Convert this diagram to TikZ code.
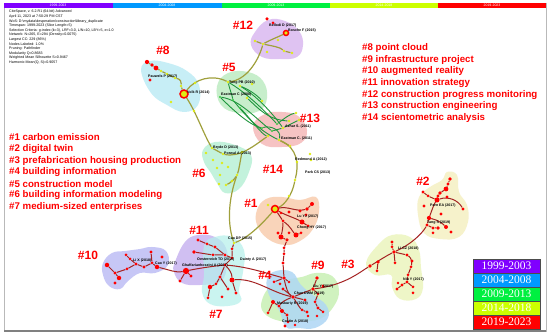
\documentclass[tikz,border=0pt]{standalone}
\usepackage{fontspec}
\setmainfont{Liberation Sans}
\newfontfamily\legserif{Liberation Serif}
\definecolor{nred}{RGB}{255,0,0}
\definecolor{nyel}{RGB}{222,236,20}
\definecolor{ngrn}{RGB}{50,200,60}
\definecolor{olivec}{RGB}{160,160,60}
\definecolor{greenl}{RGB}{30,150,60}
\definecolor{darkred}{RGB}{165,35,35}
\definecolor{labred}{RGB}{255,0,0}
\definecolor{b8}{RGB}{190,236,245}
\definecolor{b12}{RGB}{218,185,240}
\definecolor{b5}{RGB}{190,236,195}
\definecolor{b13}{RGB}{245,185,185}
\definecolor{b6}{RGB}{185,240,215}
\definecolor{b1}{RGB}{248,205,175}
\definecolor{b2}{RGB}{245,240,195}
\definecolor{b3}{RGB}{236,245,190}
\definecolor{b4}{RGB}{175,215,245}
\definecolor{b9}{RGB}{200,240,180}
\definecolor{b11}{RGB}{200,180,240}
\definecolor{b7}{RGB}{180,240,235}
\definecolor{b10}{RGB}{190,190,245}
\definecolor{tpurple}{RGB}{128,0,255}
\definecolor{tblue}{RGB}{0,153,255}
\definecolor{tgreen}{RGB}{0,240,64}
\definecolor{tyellow}{RGB}{204,255,0}
\definecolor{tred}{RGB}{255,0,0}
\pgfdeclarelayer{blobs}
\pgfdeclarelayer{edges}
\pgfsetlayers{blobs,edges,main}
\tikzset{
 rd/.style={circle,fill=nred,inner sep=0pt,minimum size=1.25*#1pt},
 rd/.default=2.6,
 yd/.style={circle,fill=nyel,inner sep=0pt,minimum size=2.8pt},
 gd/.style={circle,fill=ngrn,inner sep=0pt,minimum size=2.3pt},
 ringn/.style={circle,draw=nred,fill=nyel,line width=1.5pt,inner sep=0pt,minimum size=#1pt},
 olv/.style={draw=olivec,line width=1.2pt},
 grl/.style={draw=greenl,line width=0.9pt},
 drd/.style={draw=darkred,line width=1pt},
 lab/.style={font=\fontsize{3.6}{4}\selectfont\bfseries,text=black,anchor=west,inner sep=0pt},
 clab/.style={font=\fontsize{12}{12}\selectfont\bfseries,text=labred,inner sep=0pt},
 leg/.style={font=\fontsize{9.7}{10}\selectfont\bfseries,text=labred,anchor=west,inner sep=0pt},
 blob/.style={fill=#1,fill opacity=0.85,draw=none},
 bartxt/.style={font=\fontsize{3.5}{4}\selectfont,text=white,inner sep=0pt},
 yrow/.style={draw=black!70,line width=0.4pt,fill=#1},
 yrtxt/.style={font=\legserif\fontsize{11.5}{12}\selectfont,text=white,inner sep=0pt}
}
\begin{document}
\begin{tikzpicture}[x=1pt,y=-1pt]
\useasboundingbox (0,0) rectangle (550,336);
\begin{pgfonlayer}{blobs}
\fill[white] (0,0) rectangle (550,336);
% cluster areas
\path[blob=b8] plot[smooth cycle,tension=0.7] coordinates {(141,70) (150,61) (168,63) (187,71) (199,85) (198,105) (184,112) (167,105) (151,93)};
\path[blob=b12] plot[smooth cycle,tension=0.7] coordinates {(255,32) (268,20) (285,21) (299,31) (303,45) (297,57) (280,59) (262,57) (251,45)};
\path[blob=b5] plot[smooth cycle,tension=0.7] coordinates {(217,86) (228,73) (248,72) (263,81) (267,98) (259,111) (238,113) (221,105)};
\path[blob=b13] plot[smooth cycle,tension=0.7] coordinates {(253,126) (265,114) (282,112) (298,116) (307,130) (301,143) (282,147) (262,144)};
\path[blob=b6] plot[smooth cycle,tension=0.7] coordinates {(203,150) (215,142) (235,145) (251,155) (249,172) (239,189) (225,193) (217,183) (211,173) (204,162)};
\path[blob=b1] plot[smooth cycle,tension=0.7] coordinates {(257,210) (266,199) (282,197) (300,200) (316,197) (319,212) (313,229) (300,241) (285,245) (268,239) (257,225)};
\path[blob=b2] plot[smooth cycle,tension=0.7] coordinates {(419,197) (430,187) (442,180) (447,172) (457,175) (459,192) (467,205) (468,222) (459,237) (440,239) (424,233) (418,215)};
\path[blob=b3] plot[smooth cycle,tension=0.7] coordinates {(366,263) (378,245) (392,235) (410,237) (419,250) (421,268) (423,288) (416,299) (400,299) (392,287) (391,275) (375,275)};
\path[blob=b9] plot[smooth cycle,tension=0.7] coordinates {(262,300) (272,285) (290,279) (302,277) (316,273) (332,276) (339,290) (334,306) (320,319) (300,321) (280,321) (264,313)};
\path[blob=b4] plot[smooth cycle,tension=0.7] coordinates {(267,279) (276,271) (292,272) (301,285) (313,295) (326,305) (328,318) (315,328) (298,328) (286,327) (279,310) (269,295)};
\path[blob=b11] plot[smooth cycle,tension=0.7] coordinates {(175,262) (185,242) (198,235) (215,237) (226,248) (227,265) (221,281) (200,285) (182,283) (174,272)};
\path[blob=b7,fill opacity=0.7] plot[smooth cycle,tension=0.7] coordinates {(204,246) (215,237) (232,237) (244,250) (243,272) (239,290) (241,301) (228,306) (210,304) (202,292) (204,275)};
\path[blob=b10] plot[smooth cycle,tension=0.7] coordinates {(103,263) (112,253) (125,251) (140,249) (152,247) (166,251) (168,265) (155,273) (140,273) (128,281) (120,289) (109,286) (103,275)};
\end{pgfonlayer}
% frame and time bar
\draw[gray!55,line width=0.8pt] (4,3) rectangle (546,331);
\draw[gray,line width=1.2pt] (4,331) -- (546,331);
\fill[tpurple] (4,3) rectangle (113,8);
\fill[tblue] (113,3) rectangle (222,8);
\fill[tgreen] (222,3) rectangle (330,8);
\fill[tyellow] (330,3) rectangle (438,8);
\fill[tred] (438,3) rectangle (546,8);
\node[bartxt] (bt1) at (58,5.5) {1999-2003};
\node[bartxt] (bt2) at (167,5.5) {2004-2008};
\node[bartxt] (bt3) at (276,5.5) {2009-2013};
\node[bartxt] (bt4) at (384,5.5) {2014-2018};
\node[bartxt] (bt5) at (492,5.5) {2019-2023};
% info text
\node[anchor=north west,inner sep=0pt,align=left,font=\fontsize{3.6}{4.6}\selectfont] (info) at (9,10) {CiteSpace, v. 6.2.R1 (64-bit) Advanced\\April 11, 2023 at 7:50:29 PM CST\\WoS: D:\textbackslash mydata\textbackslash desperation\textbackslash construction\textbackslash library\_duplicate\\Timespan: 1999-2023 (Slice Length=5)\\Selection Criteria: g-index (k=3), LRF=3.0, L/N=10, LBY=5, e=1.0\\Network: N=265, E=294 (Density=0.0075)\\Largest CC: 229 (86\%)\\Nodes Labeled: 1.0\%\\Pruning: Pathfinder\\Modularity Q=0.8683\\Weighted Mean Silhouette S=0.9467\\Harmonic Mean(Q, S)=0.9057};
% ---------- nodes ----------
% #8
\node[rd=3.4] (a1) at (147,62) {};
\node[rd=3] (a2) at (152,65) {};
\node[rd=3.8] (a3) at (156,68) {};
\node[yd] (a4) at (161,71) {};
\node[yd] (a5) at (167,74) {};
\node[yd] (a6) at (175,78) {};
\node[rd=2.6] (pauw) at (150,80) {};
\node[yd] (a7) at (181,86) {};
\node[ringn=8] (volk) at (184,94) {};
\node[yd] (a8) at (195,83) {};
\node[yd] (a9) at (171,102) {};
\node[yd] (a10) at (194,111) {};
% #12
\node[rd=2.8] (b1) at (267,19) {};
\node[rd=2.4] (b2) at (273,23) {};
\node[ringn=5] (bosche) at (286,33) {};
\node[yd] (b3) at (263,44) {};
\node[yd] (b4) at (255,41) {};
\node[yd] (b5) at (278,40) {};
\node[yd] (b6) at (284,51) {};
\node[yd] (b7) at (267,52) {};
\node[yd] (b8) at (292,53) {};
% #5
\node[yd] (tang) at (228,82) {};
\node[gd] (e08) at (220,97) {};
\node[yd] (c1) at (240,86) {};
\node[gd] (c3) at (233,100) {};
\node[yd] (c4) at (247,98) {};
\node[yd] (c5) at (262,101) {};
\node[gd] (c6) at (240,108) {};
\node[yd] (c7) at (252,84) {};
% #13
\node[yd] (azh) at (283,128) {};
\node[yd] (e11) at (279,140) {};
\node[yd] (d1) at (296,113) {};
\node[yd] (d2) at (299,120) {};
\node[yd] (d3) at (289,121) {};
\node[yd] (d4) at (268,136) {};
\node[gd] (d5) at (272,131) {};
\node[gd] (d6) at (262,128) {};
\node[yd] (d7) at (290,146) {};
\node[gd] (d8) at (277,124) {};
% #14
\node[yd] (t1) at (297,162) {};
\node[yd] (t2) at (295,180) {};
\node[yd] (t3) at (289,196) {};
\node[yd] (r14a) at (310,154) {};
\node[yd] (r14b) at (311,160) {};
% #6
\node[yd] (bryde) at (212,148) {};
\node[yd] (porw) at (223,154) {};
\node[yd] (f1) at (206,153) {};
\node[yd] (f2) at (213,160) {};
\node[yd] (f3) at (217,168) {};
\node[yd] (f4) at (222,163) {};
\node[yd] (f5) at (228,167) {};
\node[yd] (f6) at (242,152) {};
\node[yd] (f7) at (237,175) {};
\node[yd] (f8) at (232,181) {};
\node[yd] (f9) at (226,185) {};
\node[yd] (f10) at (219,184) {};
\node[yd] (f11) at (220,175) {};
% #1
\node[ringn=7] (ring1) at (275,209) {};
\node[yd] (g0) at (268,205) {};
\node[rd=2.2] (g1) at (281,213) {};
\node[rd=2.6] (g2) at (289,212) {};
\node[rd=2.6] (g3) at (300,211) {};
\node[rd=3] (g4) at (307,209) {};
\node[rd=3.2] (g5) at (312,204) {};
\node[rd=2.4] (g6) at (306,215) {};
\node[rd=4] (g7) at (302,222) {};
\node[rd=2.4] (g8) at (308,226) {};
\node[rd=2.4] (g9) at (283,221) {};
\node[rd=2.6] (g10) at (278,233) {};
\node[rd=4] (g11) at (281,237) {};
\node[rd=2.8] (g12) at (287,240) {};
\node[rd=2.4] (g13) at (289,233) {};
\node[rd=4] (g14) at (296,235) {};
\node[rd=2.4] (g15) at (301,233) {};
% #4
\node[rd=2.4] (h0) at (284,248) {};
\node[rd=2.4] (h0b) at (284,254) {};
\node[rd=2.6] (h1) at (283,263) {};
\node[rd=3] (h2) at (284,278) {};
\node[rd=2.4] (h3) at (274,282) {};
\node[rd=2.4] (h4) at (280,284) {};
\node[rd=2.2] (h5) at (289,282) {};
\node[rd=2.6] (h6) at (283,289) {};
\node[rd=3.2] (h7) at (273,302) {};
\node[rd=2.4] (h8) at (268,313) {};
\node[rd=2.6] (h9) at (279,306) {};
\node[rd=3.2] (h10) at (282,311) {};
\node[rd=2.6] (h11) at (287,315) {};
\node[rd=2.4] (h12) at (288,322) {};
\node[rd=2.6] (h13) at (285,326) {};
\node[rd=2.2] (h14) at (295,325) {};
\node[rd=3] (chan) at (293,297) {};
\node[rd=2.6] (h15) at (305,300) {};
\node[rd=2.4] (h16) at (302,310) {};
\node[rd=2.6] (h17) at (307,312) {};
\node[rd=2.2] (h18) at (308,316) {};
% #9
\node[rd=3] (liu) at (313,289) {};
\node[rd=3] (i1) at (317,278) {};
\node[rd=2.6] (i2) at (323,286) {};
\node[rd=2.4] (i3) at (318,294) {};
\node[rd=2.4] (i4) at (315,302) {};
\node[rd=2.6] (i5) at (318,308) {};
\node[rd=2.4] (i6) at (323,312) {};
\node[rd=2.2] (i7) at (317,316) {};
% #3
\node[rd=3] (licz) at (394,252) {};
\node[rd=2.6] (j0) at (392,242) {};
\node[rd=2.4] (j0b) at (392,247) {};
\node[rd=3] (j1) at (378,262) {};
\node[rd=3] (j2) at (370,266) {};
\node[rd=2.4] (j3) at (377,271) {};
\node[rd=2.4] (j4) at (395,263) {};
\node[rd=2.6] (j5) at (407,255) {};
\node[rd=2.6] (j6) at (412,261) {};
\node[rd=2.4] (j7) at (411,267) {};
\node[rd=2.4] (j8) at (408,275) {};
\node[rd=2.6] (j9) at (407,282) {};
\node[rd=2.6] (j10) at (402,285) {};
\node[rd=2.2] (j11) at (398,283) {};
\node[rd=2.6] (j12) at (397,289) {};
\node[rd=2.4] (j13) at (413,287) {};
\node[rd=2.4] (j14) at (413,293) {};
% #2
\node[rd=2.6] (tangs) at (427,225) {};
\node[rd=3] (k1) at (450,179) {};
\node[rd=2.6] (k2) at (448,184) {};
\node[rd=3.8] (k3) at (446,189) {};
\node[rd=3] (k4) at (440,193) {};
\node[rd=2.6] (k5) at (438,196) {};
\node[rd=2.6] (k6) at (447,197) {};
\node[rd=2.6] (k7) at (423,192) {};
\node[rd=2.4] (k8) at (428,196) {};
\node[rd=4] (k9) at (437,200) {};
\node[rd=2.6] (k10) at (424,206) {};
\node[rd=2.6] (k11) at (463,209) {};
\node[rd=2.6] (k12) at (441,214) {};
\node[rd=3.4] (k13) at (429,218) {};
\node[rd=2.6] (k14) at (433,228) {};
\node[rd=3] (k15) at (438,228) {};
\node[rd=2.4] (k16) at (433,233) {};
\node[rd=3.2] (k17) at (446,227) {};
\node[rd=2.6] (k18) at (451,232) {};
% #11
\node[rd=2.6] (l1) at (198,240) {};
\node[rd=2.4] (l2) at (207,244) {};
\node[rd=2.6] (l3) at (215,247) {};
\node[rd=3] (l4) at (194,252) {};
\node[rd=2.4] (l5) at (213,255) {};
\node[rd=2.6] (l6) at (225,255) {};
\node[rd=2.4] (l7) at (232,258) {};
\node[rd=5] (ghaf) at (186,271) {};
\node[rd=2.6] (l8) at (191,276) {};
\node[rd=2.6] (l9) at (180,281) {};
\node[rd=2.6] (l10) at (225,265) {};
\node[rd=2.4] (l11) at (232,249) {};
\node[yd] (cao) at (234,243) {};
% #7
\node[rd=2.6] (m1) at (220,277) {};
\node[rd=4] (m2) at (232,280) {};
\node[rd=3.6] (m3) at (210,287) {};
\node[rd=2.6] (m5) at (228,289) {};
\node[rd=2.6] (m6) at (236,293) {};
\node[rd=2.4] (m7) at (208,298) {};
\node[rd=2.4] (m8) at (222,297) {};
\node[rd=2.4] (m9) at (216,284) {};
% #10
\node[rd=3.6] (n1) at (107,265) {};
\node[rd=2.6] (n2) at (115,273) {};
\node[rd=3.6] (n3) at (119,278) {};
\node[rd=2.6] (n4) at (115,283) {};
\node[rd=2.4] (n5) at (126,255) {};
\node[rd=2.4] (n6) at (130,259) {};
\node[rd=2.6] (lix) at (136,264) {};
\node[rd=2.4] (n7) at (127,269) {};
\node[rd=2.6] (n8) at (144,267) {};
\node[rd=2.6] (n9) at (151,252) {};
\node[rd=2.6] (n10) at (162,257) {};
\node[rd=3.6] (caoy) at (157,267) {};
\node[rd=2.4] (n11) at (152,263) {};
% ---------- edges ----------
\begin{pgfonlayer}{edges}
% olive trunk
\draw[olv] (a1)--(a2)--(a3)--(a4)--(a5)--(a6);
\draw[olv] (a6) .. controls (180,79) and (182,82) .. (a7);
\draw[olv] (a7)--(volk);
\draw[olv] (volk) .. controls (195,79) and (212,74) .. (tang);
\draw[olv] (tang) .. controls (246,80) and (258,62) .. (b3);
\draw[olv] (volk) .. controls (196,112) and (204,135) .. (bryde);
\draw[olv] (bryde)--(porw);
\draw[olv] (porw) .. controls (240,158) and (255,145) .. (d4);
\draw[olv] (f6) .. controls (240,162) and (239,170) .. (f7);
\draw[olv] (f7) .. controls (234,180) and (230,183) .. (f9);
\draw[olv] (f7) .. controls (230,195) and (226,220) .. (cao);
\draw[olv] (e11) .. controls (298,148) and (299,165) .. (t2);
\draw[olv] (t2) .. controls (292,196) and (284,205) .. (ring1);
\draw[olv] (ring1) .. controls (262,224) and (248,238) .. (cao);
\draw[olv] (bosche) .. controls (278,37) and (270,40) .. (b3);
\draw[olv] (b3)--(b4);
\draw[olv] (b3) .. controls (272,46) and (280,47) .. (b6);
\draw[olv] (b6)--(b8);
\draw[olv] (e11)--(d7);
% green lines #5 - #13
\draw[grl] (tang) .. controls (245,92) and (262,108) .. (d8);
\draw[grl] (e08) .. controls (240,100) and (255,118) .. (d5);
\draw[grl] (c1) .. controls (255,95) and (270,110) .. (azh);
\draw[grl] (c3) .. controls (245,115) and (258,130) .. (e11);
\draw[grl] (c4) .. controls (258,108) and (268,120) .. (d3);
\draw[grl] (e08) .. controls (235,112) and (250,125) .. (d6);
\draw[grl] (c6) .. controls (250,118) and (262,135) .. (d4);
\draw[grl] (d6) .. controls (270,125) and (282,130) .. (e11);
\draw[grl] (d5)--(azh);
\draw[grl] (d8) .. controls (285,118) and (290,114) .. (d1);
\draw[grl] (tang) .. controls (230,90) and (232,95) .. (c3);
\draw[grl] (c1) .. controls (250,90) and (258,96) .. (c5);
\draw[grl] (azh)--(d2);
% dark red: #1
\draw[drd] (ring1) .. controls (288,206) and (296,212) .. (g4);
\draw[drd] (g4)--(g5);
\draw[drd] (ring1) .. controls (285,215) and (295,218) .. (g7);
\draw[drd] (g7)--(g8);
\draw[drd] (ring1)--(g9);
\draw[drd] (g9) .. controls (283,228) and (282,232) .. (g11);
\draw[drd] (g11)--(g12);
\draw[drd] (g9) .. controls (290,226) and (293,232) .. (g14);
\draw[drd] (g14)--(g15);
\draw[drd] (g12)--(h0)--(h0b)--(h1)--(h2);
% #4 / #9
\draw[drd] (h2)--(h3);
\draw[drd] (h2) .. controls (286,288) and (288,294) .. (chan);
\draw[drd] (chan)--(liu);
\draw[drd] (liu)--(i1);
\draw[drd] (liu)--(i3)--(i4)--(i5)--(i6);
\draw[drd] (chan) .. controls (285,300) and (282,302) .. (h9);
\draw[drd] (h9)--(h10)--(h11)--(h12);
\draw[drd] (h9)--(h7)--(h8);
\draw[drd] (chan)--(h15);
\draw[drd] (chan) .. controls (298,305) and (300,308) .. (h16);
\draw[drd] (h16)--(h17);
\draw[drd] (h2)--(h5);
\draw[drd] (h6)--(chan);
% #4 -> #3
\draw[drd] (liu) .. controls (345,285) and (360,272) .. (j2);
\draw[drd] (j2) .. controls (380,260) and (386,256) .. (licz);
\draw[drd] (j1)--(j3);
\draw[drd] (j0)--(j0b)--(licz);
\draw[drd] (licz)--(j5);
\draw[drd] (j5) .. controls (412,258) and (412,264) .. (j7);
\draw[drd] (j7)--(j8)--(j9);
\draw[drd] (j9)--(j10)--(j12);
\draw[drd] (j9)--(j13);
\draw[drd] (licz)--(j4);
% #3 -> #2
\draw[drd] (licz) .. controls (410,245) and (422,234) .. (tangs);
\draw[drd] (tangs)--(k13);
\draw[drd] (k13) .. controls (432,210) and (434,204) .. (k9);
\draw[drd] (k9)--(k5)--(k4)--(k3)--(k2)--(k1);
\draw[drd] (k9) .. controls (448,196) and (458,200) .. (k11);
\draw[drd] (k7)--(k8)--(k9);
\draw[drd] (tangs)--(k14)--(k15);
\draw[drd] (k13) .. controls (438,220) and (443,224) .. (k17);
% #7 / #11 -> #4
\draw[drd] (m2) .. controls (255,278) and (270,292) .. (chan);
\draw[drd] (l10) .. controls (250,267) and (268,274) .. (h2);
% #11
\draw[drd] (ghaf) .. controls (200,268) and (215,266) .. (l10);
\draw[drd] (l10)--(l7)--(l11)--(cao);
\draw[drd] (l1)--(l2)--(l3)--(l6)--(l7);
\draw[drd] (l4)--(l5)--(l6);
\draw[drd] (ghaf)--(l8);
\draw[drd] (ghaf)--(l9);
% #7
\draw[drd] (l10)--(m1)--(m9)--(m3)--(m7);
\draw[drd] (l10) .. controls (230,270) and (232,274) .. (m2);
\draw[drd] (m2)--(m6);
\draw[drd] (m1)--(m5);
% #10
\draw[drd] (caoy) .. controls (170,270) and (176,273) .. (ghaf);
\draw[drd] (caoy)--(n11)--(n8)--(lix);
\draw[drd] (lix)--(n6)--(n5);
\draw[drd] (lix)--(n7)--(n2)--(n1);
\draw[drd] (n2)--(n3);
\draw[drd] (n9)--(n11);
\end{pgfonlayer}
% ---------- paper labels ----------
\node[lab] (Lpauw) at (148,77) {Pauwels P (2017)};
\node[lab] (Lvolk) at (187,93) {Volk R (2014)};
\node[lab] (Lbell) at (269,26) {Bellodi D (2017)};
\node[lab] (Lbosc) at (288,31) {Bosche F (2015)};
\node[lab] (Ltang) at (229,83) {Tang PB (2010)};
\node[lab] (Le08) at (221,95) {Eastman C (2008)};
\node[lab] (Lazh) at (285,127) {Azhar S. (2011)};
\node[lab] (Le11) at (281,139) {Eastman C. (2011)};
\node[lab] (Lred) at (295,160) {Redmond A (2012)};
\node[lab] (Lpark) at (305,173) {Park CS (2013)};
\node[lab] (Lbry) at (213,148) {Bryde D (2013)};
\node[lab] (Lpor) at (224,154) {Porwal A (2013)};
\node[lab] (Llu) at (297,217) {Lu YJ (2017)};
\node[lab] (Lcho) at (297,228) {Chong HY (2017)};
\node[lab] (Lcao) at (228,239) {Cao DP (2015)};
\node[lab] (Loes) at (197,260) {Oesterreich TD (2016)};
\node[lab] (Ldai) at (240,260) {Dainty A (2017)};
\node[lab] (Lgha) at (182,266) {Ghaffarianhoseini A (2017)};
\node[lab] (Llix) at (133,261) {Li X (2018)};
\node[lab] (Lcaoy) at (155,264) {Cao Y (2017)};
\node[lab] (Lliu) at (313,287) {Liu Y (2017)};
\node[lab] (Lchan) at (294,294) {Chan DWM (2019)};
\node[lab] (Lmas) at (277,304) {Maskuriy R (2019)};
\node[lab] (Lcos) at (282,322) {Costin A (2018)};
\node[lab] (Llicz) at (398,249) {Li CZ (2018)};
\node[lab] (Lniu) at (403,280) {Niu Y (2017)};
\node[lab] (Lparn) at (430,206) {Parn EA (2017)};
\node[lab] (Ltangs) at (427,223) {Tang S (2019)};
% ---------- cluster labels ----------
\node[clab] (C8) at (163,50) {\#8};
\node[clab] (C12) at (243,25) {\#12};
\node[clab] (C5) at (229,67) {\#5};
\node[clab] (C13) at (310,118) {\#13};
\node[clab] (C14) at (273,169) {\#14};
\node[clab] (C6) at (199,173) {\#6};
\node[clab] (C1) at (251,203) {\#1};
\node[clab] (C11) at (199,230) {\#11};
\node[clab] (C10) at (88,255) {\#10};
\node[clab] (C7) at (216,314) {\#7};
\node[clab] (C4) at (265,275) {\#4};
\node[clab] (C9) at (318,265) {\#9};
\node[clab] (C3) at (348,264) {\#3};
\node[clab] (C2) at (423,181) {\#2};
% ---------- legends ----------
\node[leg] (L1) at (9,137.5) {\#1 carbon emission};
\node[leg] (L2) at (9,149.1) {\#2 digital twin};
\node[leg] (L3) at (9,160.7) {\#3 prefabrication housing production};
\node[leg] (L4) at (9,172.3) {\#4 building information};
\node[leg] (L5) at (9,183.9) {\#5 construction model};
\node[leg] (L6) at (9,195.5) {\#6 building information modeling};
\node[leg] (L7) at (9,207.1) {\#7 medium-sized enterprises};
\node[leg] (L8) at (362,48) {\#8 point cloud};
\node[leg] (L9) at (362,59.7) {\#9 infrastructure project};
\node[leg] (L10) at (362,71.4) {\#10 augmented reality};
\node[leg] (L11) at (362,83.1) {\#11 innovation strategy};
\node[leg] (L12) at (362,94.8) {\#12 construction progress monitoring};
\node[leg] (L13) at (362,106.5) {\#13 construction engineering};
\node[leg] (L14) at (362,118.2) {\#14 scientometric analysis};
% year legend
\draw[yrow=tpurple] (473,259) rectangle (540,273);
\draw[yrow=tblue] (473,273) rectangle (540,287);
\draw[yrow=tgreen] (473,287) rectangle (540,301);
\draw[yrow=tyellow] (473,301) rectangle (540,315);
\draw[yrow=tred] (473,315) rectangle (540,329);
\node[yrtxt] (Y1) at (506.5,266) {1999-2003};
\node[yrtxt] (Y2) at (506.5,280) {2004-2008};
\node[yrtxt] (Y3) at (506.5,294) {2009-2013};
\node[yrtxt] (Y4) at (506.5,308) {2014-2018};
\node[yrtxt] (Y5) at (506.5,322) {2019-2023};
\end{tikzpicture}
\end{document}
